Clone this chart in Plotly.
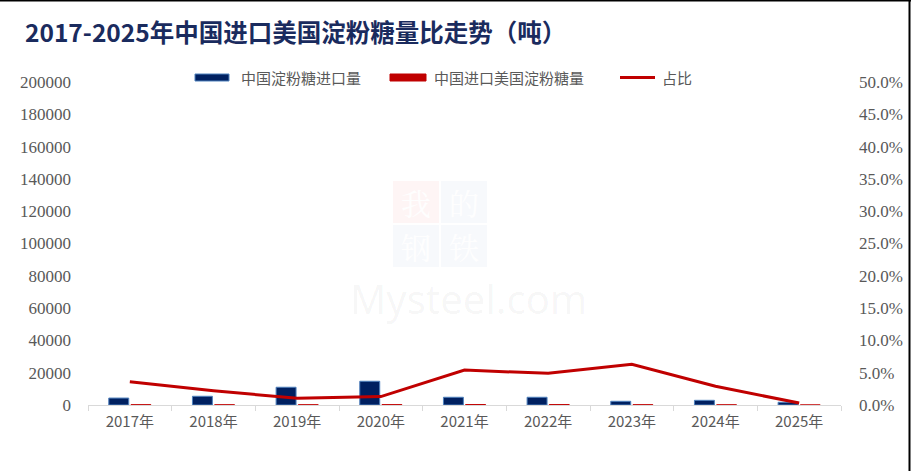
import plotly.graph_objects as go

years = ["2017年", "2018年", "2019年", "2020年", "2021年", "2022年", "2023年", "2024年", "2025年"]
china_import = [4300, 5400, 11000, 14700, 4800, 4800, 2300, 2900, 1700]
china_from_us = [155, 120, 115, 190, 260, 235, 145, 85, 5]
ratio = [0.036, 0.022, 0.0104, 0.013, 0.054, 0.049, 0.063, 0.029, 0.003]

left_ticks = [0, 20000, 40000, 60000, 80000, 100000, 120000, 140000, 160000, 180000, 200000]
right_ticks = [0, 0.05, 0.10, 0.15, 0.20, 0.25, 0.30, 0.35, 0.40, 0.45, 0.50]

NAVY = "#002060"
RED = "#c00000"
GRAY = "#595959"

W, H = 911, 471
L, R, T, B = 88, 70, 82, 66
pw, ph = W - L - R, H - T - B

def px(x):
    return (x - L) / pw

def py(y):
    return (H - B - y) / ph

fig = go.Figure()
fig.add_trace(go.Bar(
    x=years, y=china_import, name="中国淀粉糖进口量", showlegend=False,
    marker=dict(color=NAVY, line=dict(color="#4f81bd", width=1)),
))
fig.add_trace(go.Bar(
    x=years, y=china_from_us, name="中国进口美国淀粉糖量", showlegend=False,
    marker=dict(color=RED, line=dict(color=RED, width=1)),
))
fig.add_trace(go.Scatter(
    x=years, y=ratio, name="占比", yaxis="y2", mode="lines", showlegend=False,
    line=dict(color=RED, width=3),
))

tick_font = dict(family="Liberation Serif", size=17, color=GRAY)
legend_font = dict(family="Noto Sans CJK SC", size=15, color=GRAY)

annotations = []
shapes = []

# manual legend
legend_items = [
    ("rect", 195, 229, NAVY, "#4f81bd", "中国淀粉糖进口量", 239),
    ("rect", 390, 426, RED, RED, "中国进口美国淀粉糖量", 432),
    ("line", 620, 655, RED, RED, "占比", 660),
]
for kind, x0, x1, fill, edge, label, tx in legend_items:
    if kind == "rect":
        shapes.append(dict(type="rect", xref="paper", yref="paper", x0=px(x0), x1=px(x1),
                           y0=py(81), y1=py(74), fillcolor=fill, line=dict(color=edge, width=1)))
    else:
        shapes.append(dict(type="line", xref="paper", yref="paper", x0=px(x0), x1=px(x1),
                           y0=py(77.5), y1=py(77.5), line=dict(color=fill, width=3)))
    annotations.append(dict(text=label, x=px(tx), y=py(77.5), xref="paper", yref="paper",
                            showarrow=False, xanchor="left", yanchor="middle", font=legend_font))

# watermark
for cx, cy, bg in [(416, 202, "rgba(230,80,80,0.06)"), (464, 202, "rgba(70,110,190,0.045)"),
                   (416, 246, "rgba(70,110,190,0.045)"), (464, 246, "rgba(70,110,190,0.045)")]:
    shapes.append(dict(type="rect", xref="paper", yref="paper", x0=px(cx - 23), x1=px(cx + 23),
                       y0=py(cy + 21), y1=py(cy - 21), fillcolor=bg, line=dict(width=0), layer="below"))
for ch, cx, cy in [("我", 416, 202), ("的", 464, 202), ("钢", 416, 246), ("铁", 464, 246)]:
    annotations.append(dict(text=ch, x=px(cx), y=py(cy), xref="paper", yref="paper",
                            showarrow=False, xanchor="center", yanchor="middle",
                            font=dict(family="Noto Serif CJK SC, Noto Sans CJK SC", size=30,
                                      color="rgba(255,255,255,0.95)")))
annotations.append(dict(text="Mysteel.com", x=px(468), y=py(269), xref="paper", yref="paper",
                        showarrow=False, xanchor="center", yanchor="top",
                        font=dict(family="Noto Sans", size=40, color="rgba(0,0,0,0.045)")))

# border lines (top and right)
shapes.append(dict(type="line", xref="paper", yref="paper", x0=px(0), x1=px(W), y0=py(0.75), y1=py(0.75),
                   line=dict(color="black", width=1.5)))
shapes.append(dict(type="line", xref="paper", yref="paper", x0=px(909.5), x1=px(909.5), y0=py(0), y1=py(H),
                   line=dict(color="black", width=2)))

fig.update_layout(
    width=W, height=H,
    margin=dict(l=L, r=R, t=T, b=B, autoexpand=False),
    paper_bgcolor="white", plot_bgcolor="white",
    barmode="group", bargap=0.47, bargroupgap=0.1,
    showlegend=False,
    title=dict(text="<b>2017-2025年中国进口美国淀粉糖量比走势（吨）</b>",
               x=25 / W, xanchor="left", xref="container",
               y=1 - 33 / H, yanchor="middle", yref="container",
               font=dict(family="Noto Sans CJK SC", size=24.5, color="#1a2b5e")),
    xaxis=dict(type="category", showgrid=False, showline=True, linecolor="#d9d9d9", linewidth=1,
               ticks="outside", tickson="boundaries", ticklen=5, tickcolor="#d9d9d9",
               tickfont=dict(family="Noto Sans CJK SC", size=15, color=GRAY),
               ticklabelstandoff=3),
    yaxis=dict(range=[0, 200000], tickvals=left_ticks, ticktext=[str(v) for v in left_ticks],
               showgrid=False, zeroline=False, showline=False, tickfont=tick_font,
               ticklabelstandoff=16),
    yaxis2=dict(range=[0, 0.5], tickvals=right_ticks, tickformat=".1%", overlaying="y", side="right",
                showgrid=False, zeroline=False, showline=False, tickfont=tick_font,
                ticklabelstandoff=17),
    annotations=annotations,
    shapes=shapes,
)

fig.write_html("out.html", config={"displayModeBar": False},
               post_script="document.body.style.margin='0';document.body.style.overflow='hidden';")
